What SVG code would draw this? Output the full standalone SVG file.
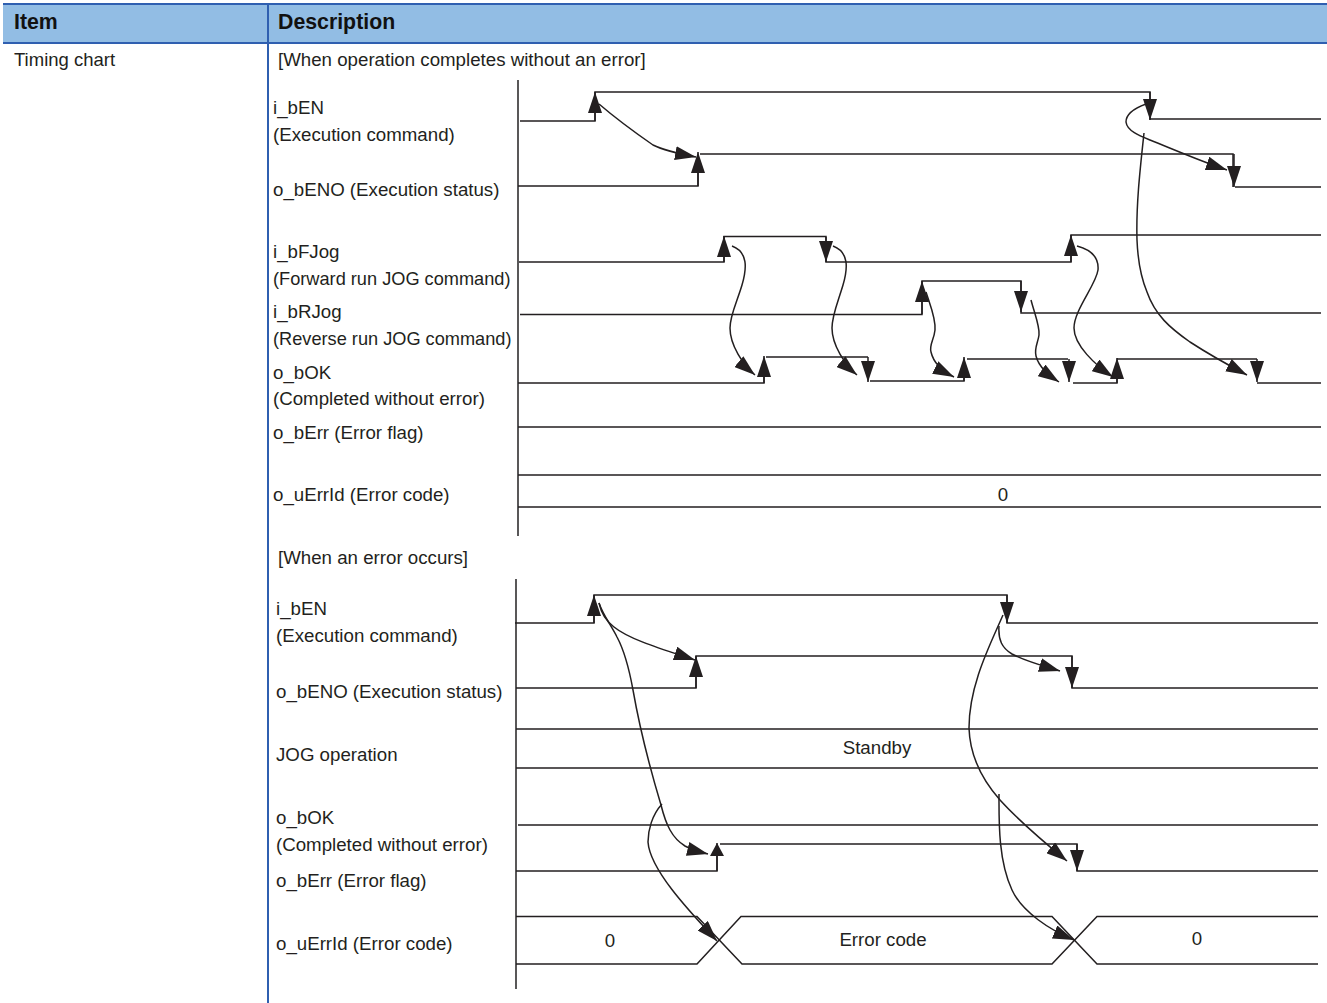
<svg xmlns="http://www.w3.org/2000/svg" width="1327" height="1003" viewBox="0 0 1327 1003">
<style>
text{font-family:"Liberation Sans",Arial,sans-serif;font-size:18.7px;fill:#231f20}
.h{font-weight:bold;font-size:21.3px;fill:#111}
.n{font-size:18.2px}
.m{text-anchor:middle}
.w{fill:none;stroke:#231f20;stroke-width:1.5}
.a{fill:none;stroke:#231f20;stroke-width:1.5;marker-end:url(#ah)}
.s{fill:none;stroke:#231f20;stroke-width:1.5;marker-end:url(#sh)}
.ax{stroke:#3c3a3b;stroke-width:1.7}
</style>
<defs>
<marker id="ah" markerUnits="userSpaceOnUse" viewBox="0 0 21 14" refX="21" refY="7" markerWidth="21" markerHeight="14" orient="auto"><path d="M0,0L21,7L0,14Z" fill="#231f20"/></marker>
<marker id="sh" markerUnits="userSpaceOnUse" viewBox="0 0 13 14" refX="13" refY="7" markerWidth="13" markerHeight="14" orient="auto"><path d="M0,0L13,7L0,14Z" fill="#231f20"/></marker>
</defs>
<g id="table">
<rect x="3" y="4" width="1324" height="39" fill="#92bde4"/>
<path d="M3,4H1327M3,43H1327M268,4V1003" fill="none" stroke="#2f5fb0" stroke-width="2"/>
<text class="h" x="14" y="29">Item</text>
<text class="h" x="278" y="29">Description</text>
<text x="14" y="66" style="font-size:18.5px">Timing chart</text>
<text x="278" y="66">[When operation completes without an error]</text>
<text x="278" y="564">[When an error occurs]</text>
</g>
<g id="chart1-labels">
<text x="273" y="114">i_bEN</text>
<text x="273" y="141">(Execution command)</text>
<text x="273" y="196">o_bENO (Execution status)</text>
<text x="273" y="258">i_bFJog</text>
<text class="n" x="273" y="285">(Forward run JOG command)</text>
<text x="273" y="318">i_bRJog</text>
<text class="n" x="273" y="345">(Reverse run JOG command)</text>
<text x="273" y="379">o_bOK</text>
<text x="273" y="405">(Completed without error)</text>
<text x="273" y="439">o_bErr (Error flag)</text>
<text x="273" y="501">o_uErrId (Error code)</text>
</g>
<g id="chart1-waves">
<path class="ax" d="M518,80V536"/>
<path class="w" d="M520,121H595V92H1150V119H1321"/>
<path class="w" d="M518,186H698V165M700,154H1233V187M1235,187H1321"/>
<path class="w" d="M519,262H724V236.500H826V262H1071V235H1321"/>
<path class="w" d="M520,314.500H922V281H1021V313H1321"/>
<path class="w" d="M518,383H764V370M766,357H868M870,381H964V370M967,359H1068M1073,383H1117V370M1117,359H1257M1257,383H1321"/>
<path class="w" d="M518,427H1321M518,475H1321M518,507H1321"/>
<text class="m" x="1003" y="501">0</text>
</g>
<g id="chart2-labels">
<text x="276" y="615">i_bEN</text>
<text x="276" y="642">(Execution command)</text>
<text x="276" y="698">o_bENO (Execution status)</text>
<text x="276" y="761">JOG operation</text>
<text x="276" y="824">o_bOK</text>
<text x="276" y="851">(Completed without error)</text>
<text x="276" y="887">o_bErr (Error flag)</text>
<text x="276" y="950">o_uErrId (Error code)</text>
</g>
<g id="chart2-waves">
<path class="ax" d="M516,579V989"/>
<path class="w" d="M515,623H594V595H1007V623H1318"/>
<path class="w" d="M516,688H696V656H1072V688H1318"/>
<path class="w" d="M516,729H1318M516,768H1318M518,825H1318"/>
<path class="w" d="M516,871H717V855M720,844H1077V871H1318"/>
<path class="w" d="M516,916.500H697L742,964H1052L1097,916.500H1318"/>
<path class="w" d="M516,964H697L741,916.500H1052L1097,964H1318"/>
<text class="m" x="610" y="947">0</text>
<text class="m" x="883" y="946">Error code</text>
<text class="m" x="877" y="754">Standby</text>
<text class="m" x="1197" y="945">0</text>
</g>
<g id="connectors">
<path class="a" d="M595,121V92"/>
<path class="a" d="M1150,92V120"/>
<path class="a" d="M698,186V152"/>
<path class="a" d="M1234,154V187"/>
<path class="a" d="M724,262V236"/>
<path class="a" d="M826,237V262"/>
<path class="a" d="M1071,262V235"/>
<path class="a" d="M922,314V281"/>
<path class="a" d="M1021,281V312"/>
<path class="a" d="M764,383V356"/>
<path class="a" d="M868,357V382"/>
<path class="a" d="M964,381V357"/>
<path class="a" d="M1069,359V382"/>
<path class="a" d="M1117,383V358"/>
<path class="a" d="M1257,359V382"/>
<path class="a" d="M599,104C620,122 640,136 653,145C665,151 680,154 696,157"/>
<path class="a" d="M732,246C748,252 747,268 742,285C737,302 730,315 730,328C730,345 743,365 755,375"/>
<path class="a" d="M833,246C849,252 848,268 843,285C838,302 832,315 832,328C832,345 845,365 857,375"/>
<path class="a" d="M926,292C930,305 936,318 935,330C934,340 929,345 931,352C934,365 944,372 954,377"/>
<path class="a" d="M1031,300C1035,315 1040,327 1039,335C1038,343 1034,348 1036,356C1039,368 1050,376 1059,382"/>
<path class="a" d="M1077,246C1092,250 1099,258 1098,270C1096,285 1074,310 1074,328C1074,345 1095,365 1113,377"/>
<path class="a" d="M1146,104C1135,108 1126,114 1126,122C1127,131 1140,136 1150,140C1175,150 1200,161 1227,170"/>
<path class="a" d="M1144,133C1140,170 1136,205 1137,240C1138,265 1142,280 1147,292C1155,315 1170,328 1190,342C1210,355 1230,366 1247,375"/>
<path class="a" d="M594,623V595"/>
<path class="a" d="M1007,595V623"/>
<path class="a" d="M696,688V656"/>
<path class="a" d="M1072,656V688"/>
<path class="s" d="M717,871V843"/>
<path class="a" d="M1077,844V871"/>
<path class="a" d="M599,603C601,612 606,621 614,627C630,640 665,650 695,660"/>
<path class="a" d="M599,603C603,615 611,625 617,637C624,650 629,668 633,690C640,730 652,775 661,805C666,825 672,838 685,846C692,850 700,852 708,854"/>
<path class="a" d="M662,804C652,815 648,830 648,842C650,870 690,912 717,941"/>
<path class="a" d="M1003,615C990,645 969,685 969,728C970,760 985,783 1000,800C1020,822 1045,843 1067,861"/>
<path class="a" d="M999,626C998,640 1002,648 1012,654C1025,661 1040,665 1060,671"/>
<path class="a" d="M999,794C999,820 998,860 1012,890C1022,912 1050,930 1074,940"/>
</g>
</svg>
